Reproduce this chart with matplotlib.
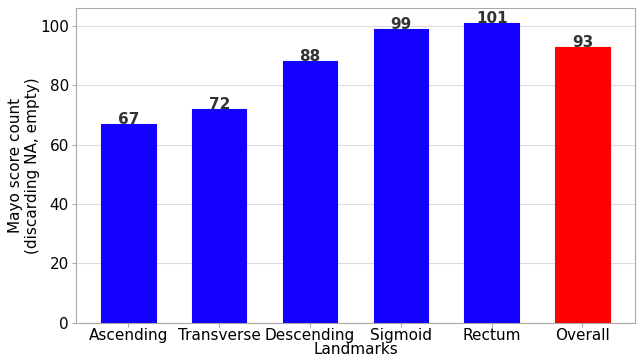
import matplotlib
matplotlib.use("Agg")
import matplotlib.pyplot as plt

plt.rcParams["font.family"] = ["DejaVu Sans"]

categories = ["Ascending", "Transverse", "Descending", "Sigmoid", "Rectum", "Overall"]
counts = [67, 72, 88, 99, 101, 93]
colors = ["#1400ff"] * 5 + ["#ff0000"]

fig = plt.figure(figsize=(6.37, 3.58), dpi=100)
ax = fig.add_axes([0.119, 0.098, 0.878, 0.88])
bars = ax.bar(categories, counts, width=0.6, color=colors, edgecolor=colors, linewidth=0.8, zorder=3)
for b, v in zip(bars, counts):
    ax.text(b.get_x() + b.get_width() / 2, v, str(v), ha="center", va="baseline",
            fontsize=11, fontweight="bold", color="#333333", zorder=4)
ax.set_ylim(0, 106)
ax.set_xlim(-0.58, 5.58)
ax.yaxis.grid(True, color="#dddddd", linewidth=0.8, zorder=0)
ax.set_axisbelow(True)
for s in ax.spines.values():
    s.set_color("#aaaaaa")
ax.tick_params(axis="both", labelsize=11, colors="#aaaaaa", labelcolor="black")
ax.tick_params(axis="y", length=3, pad=2)
ax.tick_params(axis="x", length=3, pad=1)
ax.set_xlabel("Landmarks", fontsize=11, labelpad=-1)
ax.set_ylabel("Mayo score count\n(discarding NA, empty)", fontsize=11, labelpad=0)
fig.savefig("out.png", dpi=100)
